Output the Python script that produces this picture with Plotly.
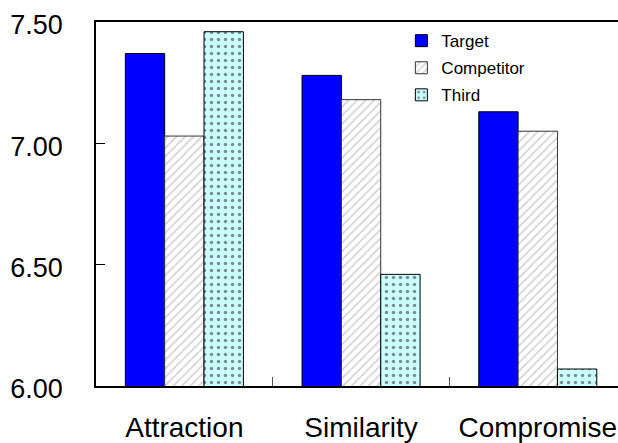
import plotly.graph_objects as go

# Mean ratings per context effect condition
conditions = ["Attraction", "Similarity", "Compromise"]
target = [7.37, 7.28, 7.13]
competitor = [7.03, 7.18, 7.05]
third = [7.46, 6.46, 6.07]

y_ticks = [6.0, 6.5, 7.0, 7.5]

FONT = "Liberation Sans, Arial, sans-serif"

fig = go.Figure()

fig.add_trace(go.Bar(
    name="Target", x=conditions, y=target, legendgroup="a",
    marker=dict(color="#0000ff", line=dict(color="#000000", width=1)),
))
fig.add_trace(go.Bar(
    name="Competitor", x=conditions, y=competitor, legendgroup="b",
    marker=dict(
        color="#ffffff",
        line=dict(color="#333333", width=1),
        pattern=dict(shape="/", fgcolor="#a8a8a8", bgcolor="#ffffff",
                     size=6, solidity=0.3),
    ),
))
fig.add_trace(go.Bar(
    name="Third", x=conditions, y=third, legendgroup="c",
    marker=dict(
        color="#ccffff",
        line=dict(color="#000000", width=1),
        pattern=dict(shape=".", fgcolor="#222222", bgcolor="#ccffff",
                     size=7, solidity=0.2),
    ),
))

fig.update_layout(
    width=618, height=443,
    margin=dict(l=96, r=0, t=22, b=57),
    paper_bgcolor="#ffffff", plot_bgcolor="#ffffff",
    barmode="group", bargap=0.332, bargroupgap=0,
    font=dict(family=FONT, color="#000000"),
    showlegend=True,
    legend=dict(
        x=0.585, y=0.997, xanchor="left", yanchor="top",
        font=dict(size=17, family=FONT), tracegroupgap=2,
        bgcolor="rgba(0,0,0,0)", borderwidth=0,
    ),
    xaxis=dict(
        type="category", range=[-0.5, 2.454], automargin=False,
        showline=True, linecolor="#000000", linewidth=1.5, mirror=True,
        ticks="inside", ticklen=9, tickcolor="#555555", tickwidth=1,
        tickson="boundaries",
        tickfont=dict(size=28, family=FONT), ticklabelstandoff=16,
        showgrid=False, zeroline=False,
    ),
    yaxis=dict(
        range=[6.0, 7.5], tickvals=y_ticks, tickformat=".2f", automargin=False,
        showline=True, linecolor="#000000", linewidth=1.5,
        ticks="inside", ticklen=9, tickcolor="#000000", tickwidth=1,
        tickfont=dict(size=27, family=FONT), ticklabelstandoff=26,
        ticklabelshift=3,
        showgrid=False, zeroline=False,
    ),
)

fig.write_html("out.html")
